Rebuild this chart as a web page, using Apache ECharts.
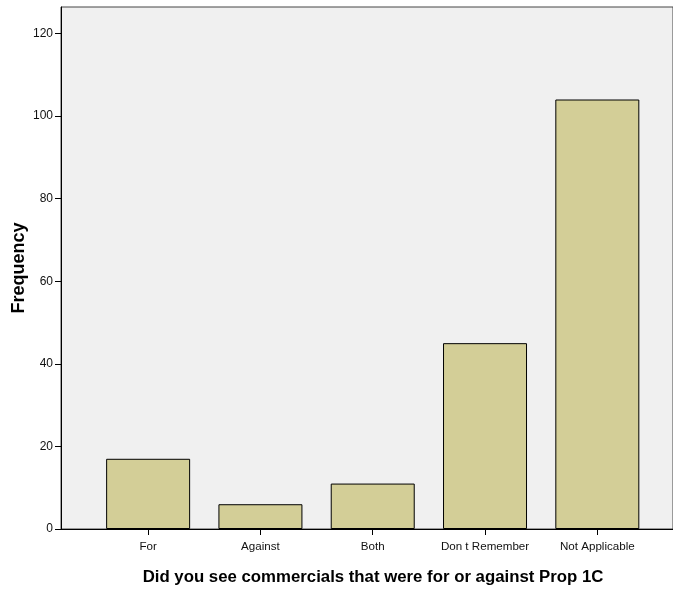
<!DOCTYPE html>
<html>
<head>
<meta charset="utf-8">
<script src="https://cdn.jsdelivr.net/npm/echarts@6/dist/echarts.min.js"></script>
<style>
html,body{margin:0;padding:0;background:#fff;}
#chart{width:673px;height:590px;}
</style>
</head>
<body>
<div id="chart"></div>
<script>
const categories = ["For", "Against", "Both", "Don t Remember", "Not Applicable"];
const frequencies = [17, 6, 11, 45, 104];
const yTicks = [0, 20, 40, 60, 80, 100, 120];
const xTitle = "Did you see commercials that were for or against Prop 1C";
const yTitle = "Frequency";

const positions = categories.map((c, i) => i);
const chart = echarts.init(document.getElementById('chart'), null, {renderer: 'canvas'});
const font = '"Liberation Sans", Arial, sans-serif';
chart.setOption({
  animation: false,
  grid: {
    left: 61, right: 0, top: 7, bottom: 61,
    outerBoundsMode: 'none',
    show: true, backgroundColor: '#f0f0f0', borderColor: '#444', borderWidth: 1,
    containLabel: false
  },
  xAxis: {
    type: 'value', min: -0.776, max: 4.674,
    splitLine: {show: false},
    axisLine: {show: true, onZero: false, lineStyle: {color: '#000', width: 1}},
    axisTick: {show: true, customValues: positions, length: 6, inside: false, lineStyle: {color: '#000'}},
    axisLabel: {
      customValues: positions,
      formatter: v => categories[Math.round(v)],
      fontFamily: font, fontSize: 11.6, color: '#111', margin: 12
    },
    name: xTitle, nameLocation: 'middle', nameGap: 40, nameMoveOverlap: false,
    nameTextStyle: {fontFamily: font, fontSize: 16.8, fontWeight: 'bold', color: '#000', padding: [0, 0, 0, 12]}
  },
  yAxis: {
    type: 'value', min: 0, max: 126.4,
    splitLine: {show: false},
    axisLine: {show: true, onZero: false, lineStyle: {color: '#000', width: 1}},
    axisTick: {show: true, customValues: yTicks, length: 6, lineStyle: {color: '#000'}},
    axisLabel: {customValues: yTicks, fontFamily: font, fontSize: 12, color: '#111', margin: 8},
    name: yTitle, nameLocation: 'middle', nameGap: 33, nameRotate: 90, nameMoveOverlap: false,
    nameTextStyle: {fontFamily: font, fontSize: 18, fontWeight: 'bold', color: '#000'}
  },
  series: [{
    type: 'bar',
    data: frequencies.map((v, i) => [positions[i], v]),
    barWidth: 84,
    itemStyle: {color: '#d3ce97', borderColor: '#000', borderWidth: 1}
  }]
});
</script>
</body>
</html>
